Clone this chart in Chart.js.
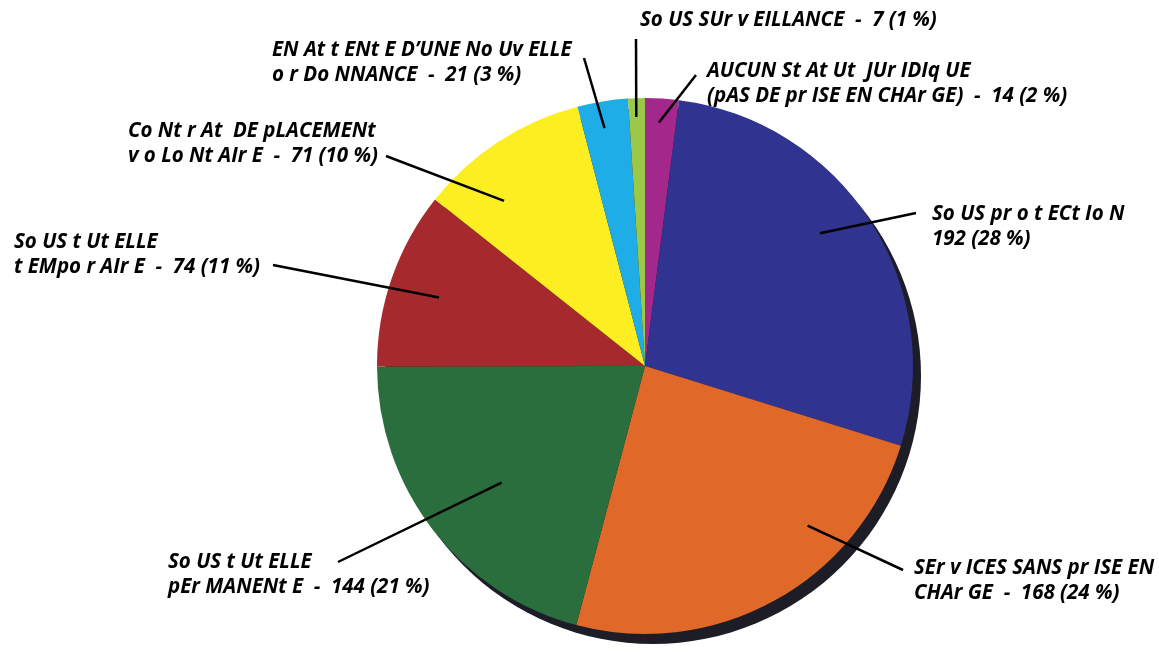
<!DOCTYPE html>
<html>
<head>
<meta charset="utf-8">
<script src="https://cdn.jsdelivr.net/npm/chart.js@4.4.0/dist/chart.umd.min.js"></script>
<style>
  html, body { margin: 0; padding: 0; background: #fff; }
  #wrap { width: 1159px; height: 652px; position: relative; }
</style>
</head>
<body>
<div id="wrap"><canvas id="pie"></canvas></div>
<script>
// ---------- DATA ----------
const categories = [
  "AUCUN St At Ut  JUr IDIq UE (pAS DE pr ISE EN CHAr GE)",
  "So US pr o t ECt Io N",
  "SEr v ICES SANS pr ISE EN CHAr GE",
  "So US t Ut ELLE pEr MANENt E",
  "So US t Ut ELLE t EMpo r AIr E",
  "Co Nt r At  DE pLACEMENt v o Lo Nt AIr E",
  "EN At t ENt E D\u2019UNE No Uv ELLE o r Do NNANCE",
  "So US SUr v EILLANCE"
];
const counts = [14, 192, 168, 144, 74, 71, 21, 7];
const percents = [2, 28, 24, 21, 11, 10, 3, 1];
const colors = ["#a4288c", "#30338f", "#e0692a", "#2b6e3e", "#a6292d", "#fdee22", "#1fade8", "#9cc84a"];

const SEP = "  -  ";

// label lines as drawn next to each slice
const labelLines = [
  ["AUCUN St At Ut  JUr IDIq UE", "(pAS DE pr ISE EN CHAr GE)" + SEP + counts[0] + " (" + percents[0] + " %)"],
  ["So US pr o t ECt Io N", counts[1] + " (" + percents[1] + " %)"],
  ["SEr v ICES SANS pr ISE EN", "CHAr GE" + SEP + counts[2] + " (" + percents[2] + " %)"],
  ["So US t Ut ELLE", "pEr MANENt E" + SEP + counts[3] + " (" + percents[3] + " %)"],
  ["So US t Ut ELLE", "t EMpo r AIr E" + SEP + counts[4] + " (" + percents[4] + " %)"],
  ["Co Nt r At  DE pLACEMENt", "v o Lo Nt AIr E" + SEP + counts[5] + " (" + percents[5] + " %)"],
  ["EN At t ENt E D\u2019UNE No Uv ELLE", "o r Do NNANCE" + SEP + counts[6] + " (" + percents[6] + " %)"],
  ["So US SUr v EILLANCE" + SEP + counts[7] + " (" + percents[7] + " %)"]
];

// label layout: text top-left, leader start, and where the leader lands in the slice
// t = fraction along the slice angle, rf = fraction of radius
const labelLayout = [
  { x: 707, y: 71, lx: 696, ly: 75, t: 0.45, rf: 0.91 },
  { x: 932, y: 214, lx: 916, ly: 213, t: 0.455, rf: 0.82 },
  { x: 914, y: 568, lx: 903, ly: 570, t: 0.31, rf: 0.85 },
  { x: 168, y: 562, lx: 338, ly: 562, t: 0.48, rf: 0.69 },
  { x: 14, y: 242, lx: 273, ly: 265, t: 0.48, rf: 0.81 },
  { x: 128, y: 131, lx: 386, ly: 156, t: 0.3, rf: 0.81 },
  { x: 272, y: 50, lx: 584, ly: 58, t: 0.45, rf: 0.9 },
  { x: 640, y: 20, lx: 636, ly: 39, t: 0.45, rf: 0.93 }
];

const FONT = "italic bold 20.5px 'Open Sans', Lato, sans-serif";
const LINE_H = 25;

// ---------- PLUGINS ----------
const pieShadow = {
  id: "pieShadow",
  beforeDatasetsDraw(chart) {
    const arc = chart.getDatasetMeta(0).data[0];
    if (!arc) return;
    const ctx = chart.ctx;
    ctx.save();
    ctx.fillStyle = "#1d1d27";
    ctx.beginPath();
    ctx.arc(arc.x + 8, arc.y + 10, arc.outerRadius, 0, Math.PI * 2);
    ctx.fill();
    ctx.restore();
  }
};

const leaderLabels = {
  id: "leaderLabels",
  afterDatasetsDraw(chart) {
    const ctx = chart.ctx;
    const arcs = chart.getDatasetMeta(0).data;
    ctx.save();
    ctx.strokeStyle = "#000";
    ctx.lineWidth = 2.5;
    ctx.fillStyle = "#000";
    ctx.font = FONT;
    ctx.textBaseline = "middle";
    arcs.forEach((arc, i) => {
      const L = labelLayout[i];
      const a = arc.startAngle + L.t * (arc.endAngle - arc.startAngle);
      const px = arc.x + Math.cos(a) * arc.outerRadius * L.rf;
      const py = arc.y + Math.sin(a) * arc.outerRadius * L.rf;
      ctx.beginPath();
      ctx.moveTo(L.lx, L.ly);
      ctx.lineTo(px, py);
      ctx.stroke();
      labelLines[i].forEach((line, j) => {
        ctx.fillText(line, L.x, L.y + j * LINE_H);
      });
    });
    ctx.restore();
  }
};

// ---------- CHART ----------
new Chart(document.getElementById("pie"), {
  type: "pie",
  data: {
    labels: categories,
    datasets: [{
      data: counts,
      backgroundColor: colors,
      borderWidth: 0
    }]
  },
  options: {
    responsive: true,
    maintainAspectRatio: false,
    animation: false,
    layout: { padding: { top: 98, bottom: 18, left: 200, right: 69 } },
    plugins: {
      legend: { display: false },
      tooltip: { enabled: false }
    }
  },
  plugins: [pieShadow, leaderLabels]
});
</script>
</body>
</html>
